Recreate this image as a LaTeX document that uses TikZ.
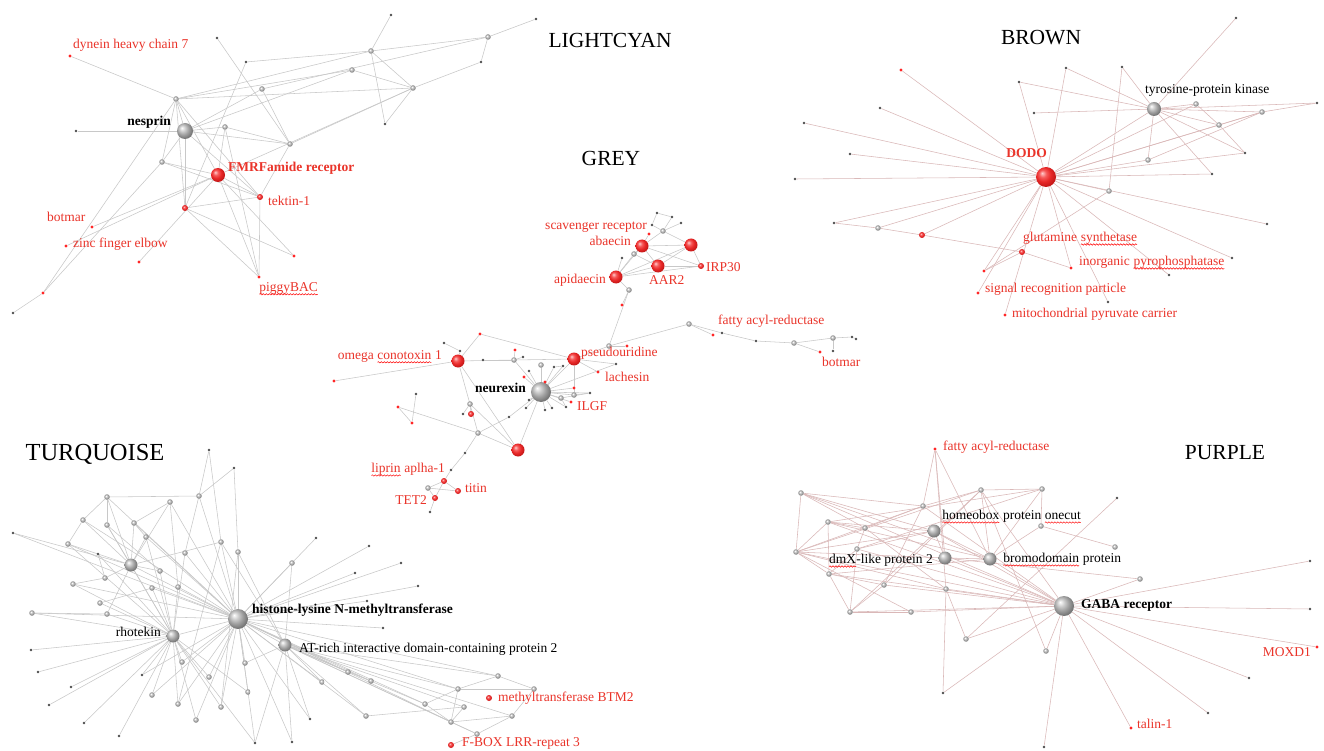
\documentclass[tikz,border=0pt]{standalone}
\usepackage{fontspec}
\setmainfont{Liberation Serif}
\usetikzlibrary{backgrounds,decorations.pathmorphing}
\definecolor{labred}{RGB}{234,52,42}
\definecolor{edgegray}{RGB}{200,200,200}
\definecolor{edgepink}{RGB}{218,184,184}
\definecolor{rA}{RGB}{255,205,205}
\definecolor{rB}{RGB}{246,90,90}
\definecolor{rC}{RGB}{232,40,40}
\definecolor{rD}{RGB}{200,25,25}
\definecolor{rE}{RGB}{150,20,20}
\definecolor{gA}{RGB}{255,255,255}
\definecolor{gB}{RGB}{205,205,205}
\definecolor{gC}{RGB}{160,160,160}
\definecolor{gD}{RGB}{120,120,120}
\definecolor{gE}{RGB}{70,70,70}
\pgfdeclareradialshading{softred}{\pgfqpoint{-10bp}{10bp}}{color(0bp)=(rA); color(9bp)=(rB); color(18bp)=(rC); color(27bp)=(rD); color(50bp)=(rE)}
\pgfdeclareradialshading{softgray}{\pgfqpoint{-10bp}{10bp}}{color(0bp)=(gA); color(9bp)=(gB); color(18bp)=(gC); color(27bp)=(gD); color(50bp)=(gE)}
\newcommand\rwave[1]{\tikz[baseline=(wv.base)]{\node[inner sep=0pt, outer sep=0pt, anchor=base west] (wv) at (0,0) {#1};
 \draw[red, line width=0.5pt, decorate, decoration={snake, segment length=3pt, amplitude=0.7pt}] ([yshift=-2.6pt]wv.base west) -- ([yshift=-2.6pt]wv.base east);}}
\newcommand\lblfont{\fontsize{13.5}{15}\selectfont}
\newcommand\ttlfont{\fontsize{21.5}{24}\selectfont}
\begin{document}
\begin{tikzpicture}[x=1pt,y=-1pt,
 edgeg/.style={draw=edgegray, line width=0.55pt},
 edgep/.style={draw=edgepink, line width=0.55pt},
 gball/.style={circle, inner sep=0pt, shading=softgray},
 rball/.style={circle, inner sep=0pt, shading=softred},
 hubg/.style={gball, minimum size=20pt},
 hubr/.style={rball, minimum size=20pt},
 midg/.style={gball, minimum size=13pt},
 midr/.style={rball, minimum size=13pt},
 smg/.style={gball, minimum size=5.5pt},
 smr/.style={rball, minimum size=6pt},
 dotg/.style={circle, inner sep=0pt, minimum size=2.8pt, fill=black!70},
 dotr/.style={circle, inner sep=0pt, minimum size=3.4pt, fill=red!85},
 labr/.style={inner sep=0pt, font=\lblfont, text=labred},
 labk/.style={inner sep=0pt, font=\lblfont, text=black},
 labrb/.style={inner sep=0pt, font=\lblfont\bfseries, text=labred},
 labkb/.style={inner sep=0pt, font=\lblfont\bfseries, text=black},
 cltitle/.style={inner sep=0pt, font=\ttlfont, text=black}]
\begin{scope}[on background layer]
\fill[white] (0,0) rectangle (1324,751);
\end{scope}
\useasboundingbox (0,0) rectangle (1324,751);

% ---------------- titles
\node[cltitle] (ttLC) at (610,40) {LIGHTCYAN};
\node[cltitle] (ttBR) at (1041,38) {BROWN};
\node[cltitle] (ttGR) at (611,158) {GREY};
\node[cltitle, font=\fontsize{24.5}{27}\selectfont] (ttTQ) at (95,454) {TURQUOISE};
\node[cltitle] (ttPU) at (1225,453) {PURPLE};

% ---------------- LIGHTCYAN
\node[hubg, minimum size=16pt] (Lnes) at (185,131) {};
\node[midr, minimum size=14pt] (Lfmrf) at (218,175) {};
\foreach \n/\x/\y in {L5/371/51, L6/352/70, L7/262/89, L8/413/88, L9/176/99, L11/225/127, L13/290/144, L14/162/162, L21/488/37}
  \node[smg] (\n) at (\x,\y) {};
\foreach \n/\x/\y in {L2/217/38, L3/246/62, L4/391/15, L10/76/131, L12/385/124, L19/13/313, L20/536/19, L22/481/62}
  \node[dotg] (\n) at (\x,\y) {};
\foreach \n/\x/\y in {L1/70/56, Lbot/92/227, Lzinc/66/246, L16/139/262, L17/294/256, Lpig/259/277, L18/43/293}
  \node[dotr] (\n) at (\x,\y) {};
\foreach \n/\x/\y in {Ltek/260/197, L15/185/208}
  \node[smr] (\n) at (\x,\y) {};

\node[labr, anchor=west] (tLdyn) at (73,45) {dynein heavy chain 7};
\node[labkb, anchor=east] (tLnes) at (171,122) {nesprin};
\node[labrb, anchor=west] (tLfmrf) at (228,168) {FMRFamide receptor};
\node[labr, anchor=west] (tLtek) at (268,201) {tektin-1};
\node[labr, anchor=west] (tLbot) at (47,217) {botmar};
\node[labr, anchor=west] (tLzinc) at (73,244) {zinc finger elbow};
\node[labr, anchor=west] (tLpig) at (259,289) {\rwave{piggyBAC}};

% ---------------- GREY
\node[hubg] (Gneu) at (541,392) {};
\foreach \n/\x/\y in {Gaba/642/246, G6/691/245, Gaar/658/266, Gapi/616/277, Gpse/574/359, Gome/458/361, G55/518/450}
  \node[midr] (\n) at (\x,\y) {};
\foreach \n/\x/\y in {G4/663/231, G7/634/254, G9/629/290, G11/609/346, G12/689/324, G16/794/343, G17/833/338, G25/514/360, G30/541/365, G38/561/398, G39/574/395, G51/470/404, G54/478/433, G59/428/488}
  \node[smg] (\n) at (\x,\y) {};
\foreach \n/\x/\y in {G1/657/213, G2/672/217, G3/681/223, G5/652/225, G8/622/258, G14/722/333, G15/756/341, G18/852/337, G19/856/339, G20/833/351, G22/444/343, G23/460/351, G24/483/360, G27/523/357, G31/554/367, G32/563/366, G33/529/371, G37/590/393, G40/566/407, G41/552/408, G42/545/410, G43/529/400, G44/526/408, G45/509/417, G46/616/364, G48/416/394, G53/463/414, G56/465/453, G57/451/470, G60/430/512}
  \node[dotg] (\n) at (\x,\y) {};
\foreach \n/\x/\y in {Gscav/649/234, G10/622/305, G13/713/335, Gbot/820/352, G21/480/334, G26/515/350, G28/627/346, Glac/598/372, Gilgf/571/402, G34/524/377, G35/545/382, G36/574/388, G47/334/381, G49/398/407, G50/412/423}
  \node[dotr] (\n) at (\x,\y) {};
\foreach \n/\x/\y in {Girp/701/266, G52/471/414, G58/444/481, Gtit/458/491, Gtet/435/498}
  \node[smr] (\n) at (\x,\y) {};

\node[labr, anchor=east] (tGscav) at (647,227) {scavenger receptor};
\node[labr, anchor=east] (tGaba) at (631,241) {abaecin};
\node[labr, anchor=west] (tGirp) at (706,267) {IRP30};
\node[labr, anchor=east] (tGapi) at (606,280) {apidaecin};
\node[labr, anchor=west] (tGaar) at (649,280) {AAR2};
\node[labr, anchor=west] (tGfat) at (718,321) {fatty acyl-reductase};
\node[labr, anchor=east] (tGome) at (442,357) {omega \rwave{conotoxin} 1};
\node[labr, anchor=west] (tGpse) at (581,353) {pseudouridine};
\node[labr, anchor=west] (tGlac) at (605,377) {lachesin};
\node[labkb, anchor=east] (tGneu) at (526,388) {neurexin};
\node[labr, anchor=west] (tGilgf) at (577,406) {ILGF};
\node[labr, anchor=west] (tGbot) at (822,362) {botmar};
\node[labr, anchor=east] (tGlip) at (445,470) {\rwave{liprin} aplha-1};
\node[labr, anchor=west] (tGtit) at (465,488) {titin};
\node[labr, anchor=east] (tGtet) at (427,500) {TET2};

% ---------------- BROWN
\node[hubr] (Bdodo) at (1046,177) {};
\node[midg, minimum size=14pt] (Btyr) at (1154,109) {};
\foreach \n/\x/\y in {B9/1196/104, B10/1262/112, B12/1219/125, B15/1148/160, B18/1109/191, B20/878/228}
  \node[smg] (\n) at (\x,\y) {};
\foreach \n/\x/\y in {B1/1236/18, B3/1066/68, B4/1122/67, B5/1019/82, B6/880/108, B7/1034/113, B8/804/123, B11/1317/103, B13/850/154, B14/1245/153, B16/795/179, B17/1212/174, B19/834/223, B22/1267/224, B24/1232/258, B26/1169/275, B29/1108/302}
  \node[dotg] (\n) at (\x,\y) {};
\foreach \n/\x/\y in {B2/901/70, B25/1071/268, B27/984/271, B28/978/293, B30/1005/315}
  \node[dotr] (\n) at (\x,\y) {};
\foreach \n/\x/\y in {B21/922/235, B23/1022/252}
  \node[smr] (\n) at (\x,\y) {};

\node[labk, anchor=west] (tBtyr) at (1145,90) {tyrosine-protein kinase};
\node[labrb, anchor=east] (tBdodo) at (1047,153) {DODO};
\node[labr, anchor=west] (tBglu) at (1023,239) {glutamine \rwave{synthetase}};
\node[labr, anchor=west] (tBino) at (1079,263) {inorganic \rwave{pyrophosphatase}};
\node[labr, anchor=west] (tBsig) at (985,289) {signal recognition particle};
\node[labr, anchor=west] (tBmit) at (1012,314) {mitochondrial pyruvate carrier};

% ---------------- PURPLE
\node[hubg] (Pgaba) at (1064,606) {};
\foreach \n/\x/\y in {Phom/934/531, Pdmx/945/558, Pbro/990/559}
  \node[midg] (\n) at (\x,\y) {};
\foreach \n/\x/\y in {P1/801/493, P2/981/490, P3/1042/489, P5/923/506, P6/828/522, P7/865/528, P8/1041/526, P9/796/552, P10/857/549, P11/1115/547, P12/829/574, P13/884/585, P14/946/589, P15/1140/579, P17/850/612, P18/911/612, P20/966/639, P21/1046/651}
  \node[smg] (\n) at (\x,\y) {};
\foreach \n/\x/\y in {P4/1117/498, P16/1310/561, P19/1310/609, P22/943/693, P23/1249/678, P24/1208/713, P25/1044/747}
  \node[dotg] (\n) at (\x,\y) {};
\foreach \n/\x/\y in {Pfat/935/449, Pmox/1317/647, Ptal/1131/728}
  \node[dotr] (\n) at (\x,\y) {};

\node[labr, anchor=west] (tPfat) at (943,447) {fatty acyl-reductase};
\node[labk, anchor=west] (tPhom) at (942,517) {\rwave{homeobox} protein \rwave{onecut}};
\node[labk, anchor=east] (tPdmx) at (933,561) {\rwave{dmX}-like protein 2};
\node[labk, anchor=west] (tPbro) at (1003,560) {\rwave{bromodomain} protein};
\node[labkb, anchor=west] (tPgaba) at (1081,605) {GABA receptor};
\node[labr, anchor=east] (tPmox) at (1311,652) {MOXD1};
\node[labr, anchor=west] (tPtal) at (1137,724) {talin-1};

% ---------------- TURQUOISE
\node[hubg] (Thist) at (238,619) {};
\foreach \n/\x/\y in {Trho/173/636, Tat/285/645, Tmid/131/565}
  \node[midg] (\n) at (\x,\y) {};
\foreach \n/\x/\y in {T3/107/497, T4/170/502, T5/199/496, T6/83/520, T7/107/525, T8/134/523, T10/68/544, T11/146/537, T12/221/542, T13/238/552, T14/185/553, T18/292/563, T20/160/571, T22/73/584, T23/105/578, T24/152/588, T25/178/587, T27/100/603, T29/32/613, T30/107/614, T33/182/662, T34/245/663, T37/209/677, T38/348/672, T40/152/695, T41/371/681, T42/322/682, T43/248/692, T44/178/704, T45/221/707, T47/425/704, T48/498/676, T49/458/689, T50/534/689, T51/464/707, T52/366/716, T53/512/716, T54/196/720, T57/451/722, T59/477/734}
  \node[smg] (\n) at (\x,\y) {};
\foreach \n/\x/\y in {T1/209/450, T2/234/468, T9/13/533, T15/98/554, T16/316/538, T17/369/546, T19/401/563, T21/355/573, T26/418/586, T28/367/601, T31/383/628, T32/31/650, T35/38/672, T36/142/675, T39/71/687, T46/49/705, T55/84/723, T56/310/719, T58/119/736, T60/255/743, T61/292/742}
  \node[dotg] (\n) at (\x,\y) {};
\foreach \n/\x/\y in {Tmet/489/698, Tfbox/451/745}
  \node[smr] (\n) at (\x,\y) {};

\node[labkb, anchor=west] (tThist) at (252,610) {histone-lysine N-methyltransferase};
\node[labk, anchor=east] (tTrho) at (161,632) {rhotekin};
\node[labk, anchor=west] (tTat) at (299,649) {AT-rich interactive domain-containing protein 2};
\node[labr, anchor=west] (tTmet) at (498,698) {methyltransferase BTM2};
\node[labr, anchor=west] (tTfbox) at (462,743) {F-BOX LRR-repeat 3};

% ---------------- connectors
\begin{scope}[on background layer]
% LIGHTCYAN
\foreach \a/\b in {L1/L9, L2/L13, L3/L5, L3/L15, L4/L5, L5/L12, L5/L8, L5/L9, L5/L21, L20/L21, L21/L22, L22/L8, L7/L21, L6/L9, L6/Lnes, L6/L8, L9/L8, L7/L13, L8/L13, L8/L12, L8/Lfmrf, L9/Lnes, L9/L14, L9/Ltek, L9/L15, L9/Lfmrf, L9/L18, Lnes/L10, Lnes/L13, Lnes/Ltek, Lnes/L15, Lnes/L14, Lnes/L11, L11/L13, L11/Lpig, L11/Lfmrf, L14/Lfmrf, L14/Ltek, Lfmrf/Lbot, Lfmrf/Lzinc, Lfmrf/L16, Lfmrf/Lpig, Lfmrf/L17, Lfmrf/Ltek, L15/Ltek, L15/L17, L15/Lpig, Ltek/Lpig, L13/Ltek, L19/L18, L18/L14, L7/Lnes}
  \draw[edgeg] (\a) -- (\b);
% GREY
\foreach \a/\b in {G1/G2, G2/G4, G3/G4, G1/G5, G5/G4, G4/Gaba, G4/G6, Gscav/Gaba, Gaba/G6, Gaba/Gaar, Gaba/G7, Gaba/Gapi, Gaba/Girp, G6/Gaar, G6/Girp, G6/Gapi, Gaar/Girp, Gaar/Gapi, Gapi/Girp, Gapi/G7, Gapi/G8, G7/Gaar, Gapi/G9, G9/G10, G9/G11, G11/G12, G12/G13, G12/G14, G14/G15, G15/G16, G16/G17, G17/G18, G18/G19, G16/Gbot, G17/G20, G11/Gpse, G11/G28, Gome/G25, G25/Gpse, Gome/G21, G21/Gpse, G22/G23, G23/Gome, Gome/G47, Gome/G55, Gome/G54, G55/Gneu, G55/G54, G55/G51, Gneu/Gpse, G26/G25, G27/G25, G24/G25, Gpse/Glac, Gpse/G39, Gpse/G46, G48/G50, G49/G50, G49/G54, G54/G45, G54/G56, G56/G57, G57/G58, G58/G59, G58/Gtit, G59/Gtit, G59/Gtet, G58/Gtet, Gtet/G60, G51/G53, G51/G52, G38/G37, G39/G37, G38/G40, G31/G32}
  \draw[edgeg] (\a) -- (\b);
\foreach \b in {G30, G31, G32, G33, G34, G35, G36, G37, G38, G39, G40, G41, G42, G43, G44, G45, G46, Gilgf, G25}
  \draw[edgeg] (Gneu) -- (\b);
% BROWN
\foreach \b in {B2, B3, B5, B6, B8, B13, B16, B19, B20, B21, B9, B10, B12, B15, Btyr, B14, B17, B18, B22, B24, B25, B27, B28, B29, B30, B26}
  \draw[edgep] (Bdodo) -- (\b);
\foreach \b in {B1, B3, B4, B5, B7, B9, B10, B12, B14, B15, B17, B11}
  \draw[edgep] (Btyr) -- (\b);
\foreach \a/\b in {B10/B11, B10/B15, B10/B12, B9/B12, B4/B18, B18/B27, B19/B20, B20/B21, B21/B23, B23/B25, B23/B27, B12/B14}
  \draw[edgep] (\a) -- (\b);
% PURPLE
\foreach \b in {P16, P19, Pmox, P23, P24, Ptal, P25, P21, P20, P18, P17, P13, P14, P15, Pbro, Phom, Pdmx, P5, P6, P9, P12, P1, P2, P10, P22}
  \draw[edgep] (Pgaba) -- (\b);
\foreach \a/\b in {P1/P5, P1/P9, P1/P7, P1/Phom, P1/Pbro, P9/P6, P9/P12, P9/P5, P9/P2, P9/Phom, P9/Pdmx, P9/P14, P6/P7, P6/P3, P6/Pbro, P6/Phom, P5/P2, P5/P13, P2/P3, P2/Pbro, P2/P13, P3/P8, P3/Pbro, P4/P20, Pfat/Pdmx, Pfat/P14, Pfat/Pbro, Pfat/P5, P12/P17, P12/P13, P12/Pbro, P17/P18, P17/P10, P10/Phom, Phom/Pdmx, Phom/Pbro, Pdmx/Pbro, Pbro/P8, Pdmx/P15, P14/P20, P14/P22, P21/P2, P7/P10, P10/P12, P6/P12, P5/P7, P7/P14, P13/P17, P8/P11, P3/P10, P2/P17, P9/P18}
  \draw[edgep] (\a) -- (\b);
% TURQUOISE
\foreach \b in {T3, T5, T6, T8, T9, T10, T12, T13, T14, T16, T17, T18, T19, T21, T24, T25, T26, T28, T31, T33, T34, T36, T37, T38, T40, T41, T42, T43, T44, T45, T47, T49, T52, T54, T56, T57, T60, T61, Tmid, Trho, Tat, T29, T22, T4, T11, T48}
  \draw[edgeg] (Thist) -- (\b);
\foreach \b in {T32, T35, T39, T46, T55, T58, T29, T27, T22, T15, T10, T11, T20, T24, T25, T33, T36, T40, T44, T54, T60, T37, T43, T45, Tmid, T14, T7, T30}
  \draw[edgeg] (Trho) -- (\b);
\foreach \b in {T3, T6, T7, T8, T9, T10, T11, T20, T23, T30, T4, T12}
  \draw[edgeg] (Tmid) -- (\b);
\foreach \b in {T18, T34, T38, T41, T42, T47, T48, T49, T51, T52, T57, T59, T60, T61, T56, T53, T12, T13}
  \draw[edgeg] (Tat) -- (\b);
\foreach \a/\b in {T3/T5, T3/T6, T3/T7, T6/T10, T8/T4, T5/T1, T5/T2, T2/T13, T1/T12, T11/T8, T4/T25, T5/T14, T12/T44, T13/T45, T48/T49, T48/T50, T49/T50, T50/T53, T49/T57, T49/T47, T47/T57, T57/T53, T57/T59, T53/T59, T59/Tfbox, T51/T57, T52/T51, T15/T23, T22/T23, T29/T30, T27/T24, T7/T20}
  \draw[edgeg] (\a) -- (\b);
\end{scope}
\end{tikzpicture}
\end{document}
